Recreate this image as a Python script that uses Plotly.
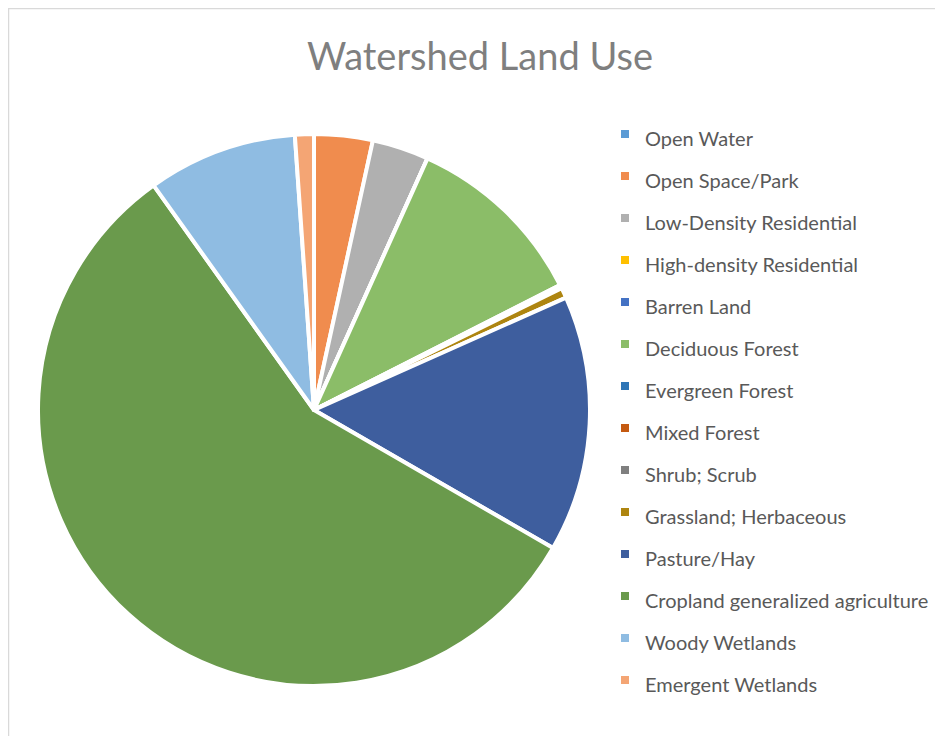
import plotly.graph_objects as go

title = "Watershed Land Use"
labels = ["Open Water", "Open Space/Park", "Low-Density Residential", "High-density Residential",
          "Barren Land", "Deciduous Forest", "Evergreen Forest", "Mixed Forest", "Shrub; Scrub",
          "Grassland; Herbaceous", "Pasture/Hay", "Cropland generalized agriculture",
          "Woody Wetlands", "Emergent Wetlands"]
values = [0.0, 3.4, 3.3, 0.0, 0.0, 10.7, 0.05, 0.1, 0.05, 0.6, 14.9, 56.4, 8.7, 1.1]
colors = ["#5B9BD5", "#F08C4E", "#B0B0B0", "#FFC000", "#4472C4", "#8BBD68", "#2E75B6",
          "#C55A11", "#7F7F7F", "#AE8510", "#3E5E9E", "#6A9A4C", "#8FBCE2", "#F4A574"]

legend_font = 20
legend_row = 30

fig = go.Figure(go.Pie(
    labels=[f'<span style="font-size:{legend_font}px">{l}</span>' for l in labels],
    values=values,
    sort=False,
    direction="clockwise",
    rotation=0,
    marker=dict(colors=colors, line=dict(color="white", width=4)),
    textinfo="none",
    hoverinfo="label+percent",
    domain=dict(x=[30/943, 582/943], y=[57/736, 1 - 125/736]),
))

fig.update_layout(
    width=943, height=736,
    margin=dict(l=0, r=0, t=0, b=0),
    paper_bgcolor="white",
    title=dict(text=title, x=472/943, xanchor="center", y=1-49/736, yanchor="middle",
               font=dict(family="Lato", size=38, color="#7F7F7F")),
    legend=dict(x=597/943, xanchor="left", y=1-100/736, yanchor="top",
                font=dict(family="Lato", size=legend_row, color="#595959"),
                itemclick=False),
    shapes=[dict(type="rect", xref="paper", yref="paper",
                 x0=0.5/943, x1=1.05, y0=-0.05, y1=1-0.5/736,
                 line=dict(color="#D9D9D9", width=1.5), fillcolor="rgba(0,0,0,0)")],
)

fig.write_html("out.html")
